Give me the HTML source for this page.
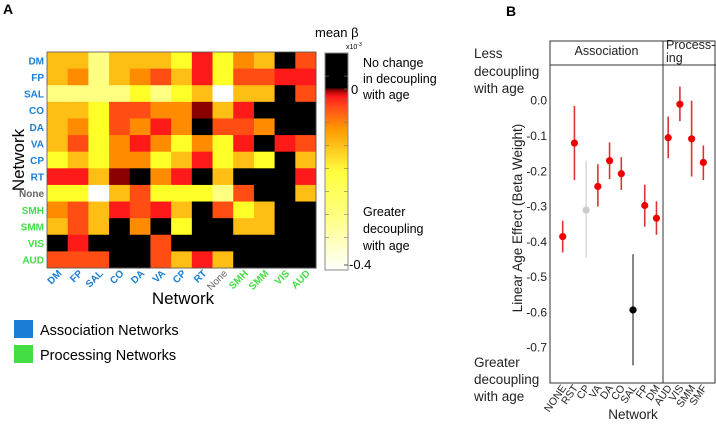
<!DOCTYPE html>
<html><head><meta charset="utf-8"><style>
body{margin:0;background:#fff;font-family:"Liberation Sans",sans-serif;}
svg text{font-family:"Liberation Sans",sans-serif;}
</style></head><body>
<svg id="s" width="716" height="425" xmlns="http://www.w3.org/2000/svg">
<defs>
<linearGradient id="cb" x1="0" y1="0" x2="0" y2="1">
<stop offset="0" stop-color="#000"/><stop offset="0.16" stop-color="#000"/>
<stop offset="0.17" stop-color="#8b0000"/><stop offset="0.2" stop-color="#ff1a1a"/>
<stop offset="0.25" stop-color="#ff4d1a"/><stop offset="0.35" stop-color="#ff9900"/>
<stop offset="0.45" stop-color="#ffcc22"/><stop offset="0.55" stop-color="#ffff40"/>
<stop offset="0.75" stop-color="#ffff80"/><stop offset="1" stop-color="#ffffff"/>
</linearGradient>
</defs>
<text x="3" y="14" font-size="14" font-weight="bold">A</text>
<text x="506" y="16" font-size="14" font-weight="bold">B</text>
<g id="heat"></g>
<rect x="325" y="53" width="23" height="217" fill="url(#cb)" stroke="#888" stroke-width="1"/>
<g id="cbt"></g>
<text x="315" y="37" font-size="13">mean β</text>
<text x="346" y="49" font-size="7">x10<tspan dy="-3" font-size="5">-3</tspan></text>
<text x="351" y="94" font-size="13">0</text>
<text x="349" y="269" font-size="13">-0.4</text>
<g font-size="12.5">
<text x="363" y="67">No change</text><text x="363" y="83">in decoupling</text><text x="363" y="99">with age</text>
<text x="363" y="216">Greater</text><text x="363" y="233">decoupling</text><text x="363" y="250">with age</text>
</g>
<text transform="translate(24,160) rotate(-90)" font-size="17" text-anchor="middle">Network</text>
<text x="183" y="304" font-size="17" text-anchor="middle">Network</text>
<rect x="14" y="320" width="19" height="18" fill="#1a7fd4"/>
<text x="40" y="335" font-size="14.5">Association Networks</text>
<rect x="14" y="345" width="19" height="18" fill="#44dd44"/>
<text x="40" y="360" font-size="14.5">Processing Networks</text>
<g id="right"></g>
<g font-size="13.5" fill="#222">
<text x="474" y="58">Less</text><text x="474" y="76">decoupling</text><text x="474" y="93">with age</text>
<text x="474" y="367">Greater</text><text x="474" y="384">decoupling</text><text x="474" y="401">with age</text>
</g>
</svg>
<script>
const heatLabels=["DM","FP","SAL","CO","DA","VA","CP","RT","None","SMH","SMM","VIS","AUD"];
const heatRows=[
"ooyoooYRYOoKr","oOyoOroRYrrRR","yyyyYyYoWooKr","ooYrrOODoRKKK","oOYrOROKrrOKK","orYOROYOYRKRr",
"YoYOOYoRYoYKo","RRoDKORKoKKKR","YYWorYYYyrKKo","OroRrRoKrYoKK","oroKOKYKKooKK","KRKKKrKKKKKKK","rrrKKroRoKKKK"];
const codeVals={K:0.05,D:-0.008,R:-0.035,r:-0.07,O:-0.11,o:-0.15,Y:-0.23,y:-0.29,W:-0.4};
const cbTicks=[0,-0.4];
const betaCats=["NONE","RST","CP","VA","DA","CO","SAL","FP","DM","AUD","VIS","SMM","SMF"];
const betaVals=[-0.385,-0.12,-0.31,-0.243,-0.17,-0.207,-0.593,-0.297,-0.333,-0.105,-0.01,-0.108,-0.175];
const betaHi=[-0.34,-0.015,-0.17,-0.18,-0.118,-0.16,-0.435,-0.238,-0.285,-0.045,0.04,0,-0.127];
const betaLo=[-0.43,-0.225,-0.445,-0.30,-0.222,-0.253,-0.75,-0.357,-0.38,-0.163,-0.058,-0.215,-0.225];
const betaColors=["#e00","#e00","#ccc","#e00","#e00","#e00","#000","#e00","#e00","#e00","#e00","#e00","#e00"];
const yTicks=[0,-0.1,-0.2,-0.3,-0.4,-0.5,-0.6,-0.7];
const NS="http://www.w3.org/2000/svg";
function mk(t,a,p){const e=document.createElementNS(NS,t);for(const k in a)e.setAttribute(k,a[k]);p.appendChild(e);return e;}
const stops=[[0.05,[0,0,0]],[0,[0,0,0]],[-0.008,[139,0,0]],[-0.035,[255,26,26]],[-0.07,[255,77,20]],[-0.11,[255,140,0]],[-0.15,[255,190,20]],[-0.23,[255,255,40]],[-0.29,[255,255,130]],[-0.4,[255,255,255]]];
function col(v){if(v>=0)return"#000";for(let i=1;i<stops.length;i++){const[a,ca]=stops[i],[b,cb]=stops[i+1]||stops[i];if(v<=a&&v>=b){const t=(a-v)/((a-b)||1);return"rgb("+ca.map((c,j)=>Math.round(c+(cb[j]-c)*t)).join(",")+")";}}return"#fff";}
const hx0=47,hx1=316,hy0=52,hy1=268,n=heatLabels.length;
const cw=(hx1-hx0)/n,ch=(hy1-hy0)/n;
const hx=i=>hx0+i*cw,hy=i=>hy0+i*ch;
function lc(i){return i<8?"#1a7fd4":i==8?"#666":"#44dd44";}
const H=document.getElementById("heat");
heatRows.forEach((row,r)=>{[...row].forEach((c,k)=>{
const e=mk("rect",{x:hx(k),y:hy(r),width:cw+0.5,height:ch+0.5,fill:col(codeVals[c])},H);

});});
mk("rect",{x:hx0,y:hy0,width:hx1-hx0,height:hy1-hy0,fill:"none",stroke:"#555","stroke-width":0.8},H);
heatLabels.forEach((l,i)=>{
const t=mk("text",{x:hx0-3,y:hy(i)+ch/2+4,"font-size":10,"font-weight":"bold","text-anchor":"end",fill:lc(i)},H);t.textContent=l;


const u=mk("text",{transform:`translate(${hx(i)+cw/2+5},${hy1+6}) rotate(-45)`,"font-size":10,"font-weight":i==8?"normal":"bold","text-anchor":"end",fill:lc(i)},H);u.textContent=l;

});
const CB=document.getElementById("cbt");
for(let i=1;i<9;i++){const y=53+i*217/9.4;mk("line",{x1:325,x2:329,y1:y,y2:y,stroke:"#777","stroke-width":0.6},CB);mk("line",{x1:344,x2:348,y1:y,y2:y,stroke:"#777","stroke-width":0.6},CB);}
cbTicks.forEach(v=>{const y=v==0?89:265;mk("line",{x1:344,x2:348,y1:y,y2:y,stroke:"#555"},CB);});
const R=document.getElementById("right");
const px0=550,pdiv=663,px1=716,ptop=41,phead=65,pbot=383;
const yS=v=>100.7+(-v)*(247/0.7);
const xS=i=>562.7+i*11.72;
mk("rect",{x:px0,y:ptop,width:px1-px0-1,height:pbot-ptop,fill:"none",stroke:"#333","stroke-width":1},R);
mk("line",{x1:px0,x2:px1,y1:phead,y2:phead,stroke:"#333"},R);
mk("line",{x1:pdiv,x2:pdiv,y1:ptop,y2:pbot,stroke:"#333"},R);
let t=mk("text",{x:(px0+pdiv)/2,y:55,"font-size":12.5,"text-anchor":"middle",fill:"#222"},R);t.textContent="Association";
t=mk("text",{x:666,y:49,"font-size":12.5,fill:"#222"},R);t.textContent="Process-";
t=mk("text",{x:666,y:62,"font-size":12.5,fill:"#222"},R);t.textContent="ing";
yTicks.forEach(v=>{const l=mk("text",{x:547,y:yS(v)+4,"font-size":12,"text-anchor":"end",fill:"#222"},R);l.textContent=v.toFixed(1);

});
t=mk("text",{transform:"translate(522,218) rotate(-90)","font-size":13.5,"text-anchor":"middle",fill:"#222"},R);t.textContent="Linear Age Effect (Beta Weight)";
t=mk("text",{x:633,y:419,"font-size":13.5,"text-anchor":"middle",fill:"#222"},R);t.textContent="Network";
betaCats.forEach((c,i)=>{
const clr=betaColors[i]=="#e00"?"#d33":betaColors[i]=="#000"?"#666":"#ddd";
const ln=mk("line",{x1:xS(i),x2:xS(i),y1:yS(betaHi[i]),y2:yS(betaLo[i]),stroke:clr,"stroke-width":1.6},R);


const d=mk("circle",{cx:xS(i),cy:yS(betaVals[i]),r:3.6,fill:betaColors[i]},R);


const l=mk("text",{transform:`translate(${xS(i)+4},${pbot+5}) rotate(-55)`,"font-size":10.5,"text-anchor":"end",fill:"#222"},R);l.textContent=c;

});
</script>
</body></html>
